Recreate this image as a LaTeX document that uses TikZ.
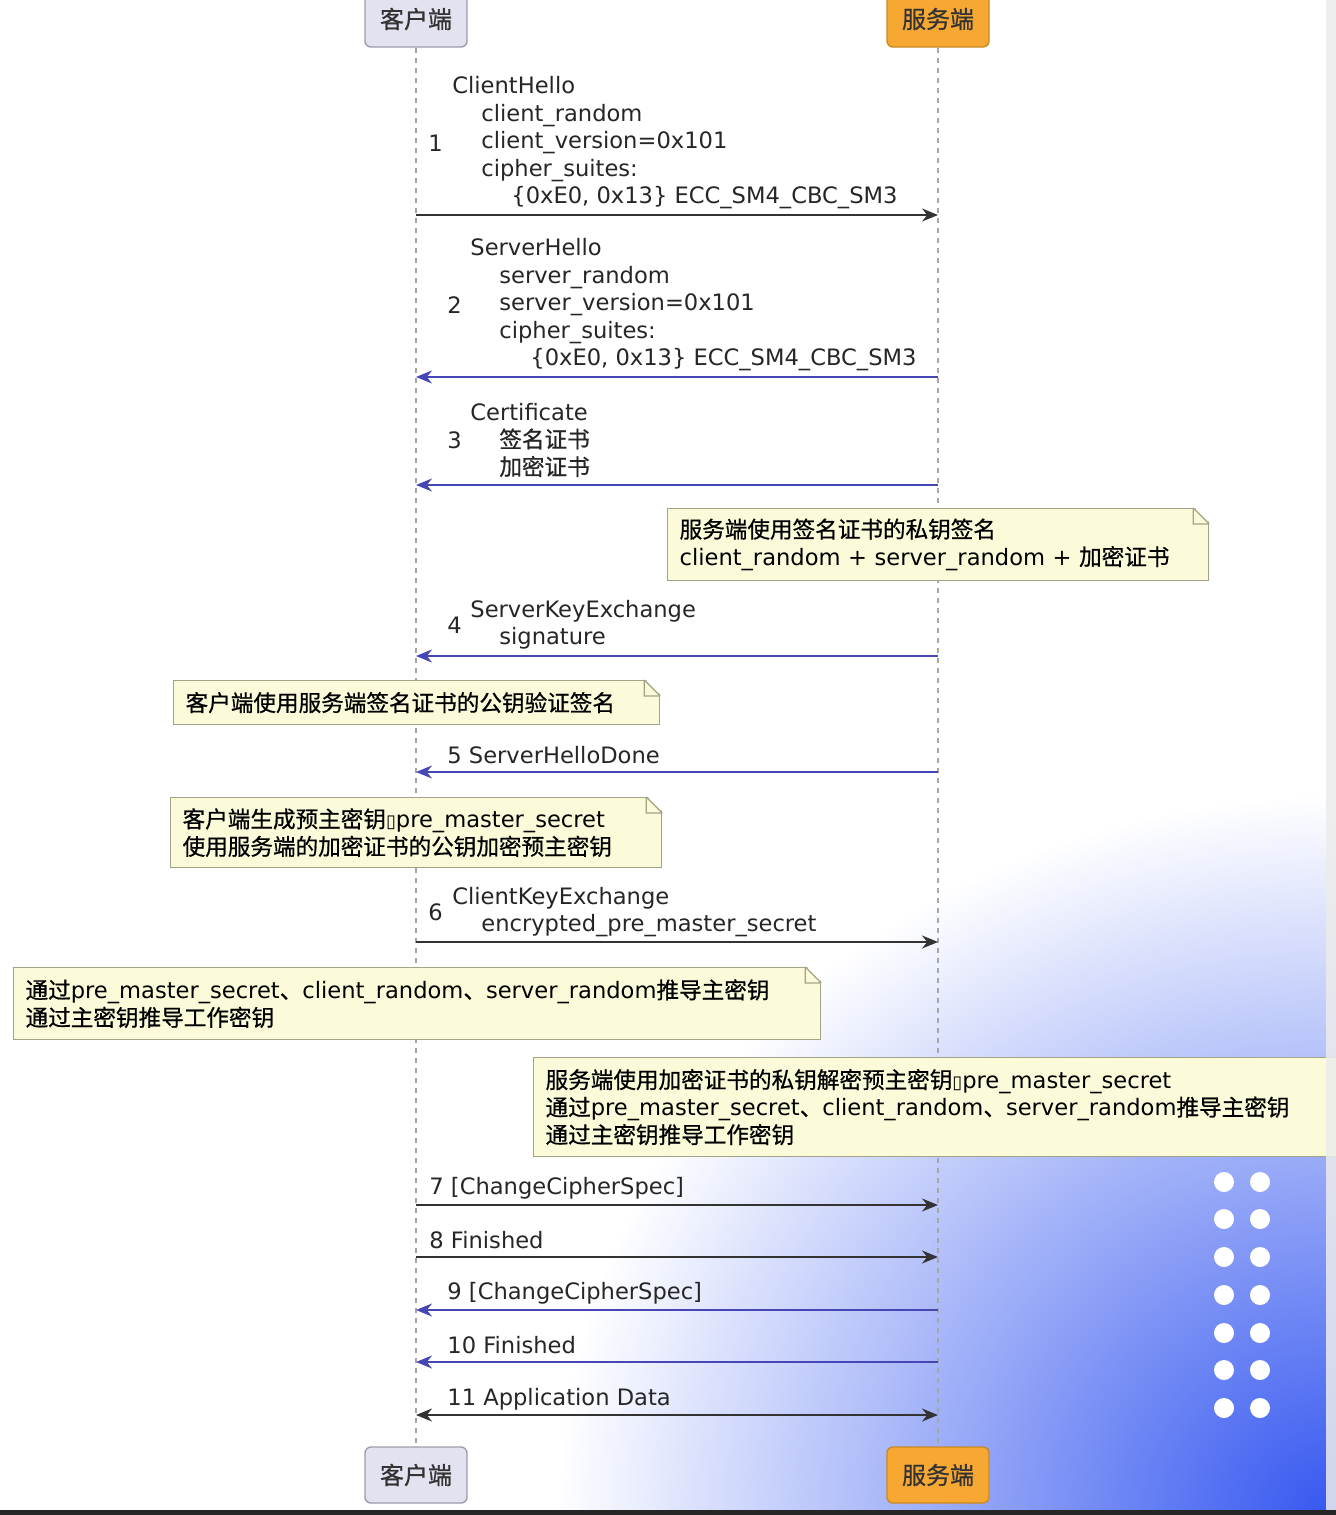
\documentclass[tikz,border=0pt]{standalone}
\usepackage{fontspec}
\setmainfont{DejaVu Sans}
\newfontfamily\zhfont[FakeBold=0.7]{Noto Sans CJK SC}
\newcommand{\zh}[1]{{\zhfont #1}}
\usepackage{xcolor}
\usepackage{tikz}
\usetikzlibrary{arrows.meta, positioning, calc}

\definecolor{clientfill}{HTML}{E2E2F0}
\definecolor{clientdraw}{HTML}{9C9CAC}
\definecolor{serverfill}{HTML}{F6A833}
\definecolor{serverdraw}{HTML}{C98A22}
\definecolor{notefill}{HTML}{FBFBDA}
\definecolor{notedraw}{HTML}{A3A38A}
\definecolor{fwdcol}{HTML}{333333}
\definecolor{backcol}{HTML}{4646B4}
\definecolor{gradblue}{HTML}{3557F0}

% folded corner of a note
\newcommand{\dogear}[1]{%
  \fill[white] ([xshift=-8pt,yshift=1pt]#1.north east) -- ([xshift=1pt,yshift=1pt]#1.north east) -- ([xshift=1pt,yshift=-8pt]#1.north east) -- cycle;
  \draw[notedraw, line width=0.6pt] ([xshift=-8pt]#1.north east) -- ([yshift=-8pt]#1.north east)
    ([xshift=-8pt]#1.north east) -- ([xshift=-8pt,yshift=-8pt]#1.north east) -- ([yshift=-8pt]#1.north east);
}

\begin{document}
\begin{tikzpicture}[
    x=0.5pt, y=-0.5pt,
    font=\fontsize{11.3}{13.75}\selectfont,
    >=Stealth,
    actor/.style={rectangle, draw=#1draw, fill=#1fill, rounded corners=3pt, line width=0.7pt, minimum width=51pt, minimum height=28pt, inner sep=0pt, font=\fontsize{12}{14}\selectfont\zhfont, text=black!80},
    lifeline/.style={draw=gray!70, line width=0.6pt, dash pattern=on 2.5pt off 2.5pt},
    note/.style={rectangle, draw=notedraw, fill=notefill, line width=0.6pt, anchor=north west, align=left, inner xsep=6pt, inner ysep=0pt, text width=#1},
    lbl/.style={anchor=west, inner sep=0pt, align=left, text=black!85},
    fwd/.style={-{Stealth[length=8pt, width=6.5pt]}, line width=1pt, draw=fwdcol},
    back/.style={-{Stealth[length=8pt, width=6.5pt]}, line width=1pt, draw=backcol},
    both/.style={{Stealth[length=8pt, width=6.5pt]}-{Stealth[length=8pt, width=6.5pt]}, line width=1pt, draw=fwdcol},
]
    \clip (0,0) rectangle (1336,1515);
    \fill[white] (0,0) rectangle (1336,1515);

    % Background glow
    \shade[inner color=gradblue, outer color=white] (1336,1515) ellipse (780 and 720);
    \foreach \row in {1182,1219,1257,1295,1333,1370,1408} {
        \fill[white] (1224,\row) circle (10);
        \fill[white] (1260,\row) circle (10);
    }

    % Participants
    \node[actor=client] (chead) at (416,19) {客户端};
    \node[actor=server] (shead) at (938,19) {服务端};
    \node[actor=client] (cfoot) at (416,1475) {客户端};
    \node[actor=server] (sfoot) at (938,1475) {服务端};
    \draw[lifeline] (chead.south) -- (cfoot.north);
    \draw[lifeline] (shead.south) -- (sfoot.north);

    % Notes
    \node[note=258.5pt, minimum height=36pt] (sign) at (667,508)
        {\zh{服务端使用签名证书的私钥签名}\\client\_random + server\_random + \zh{加密证书}};
    \dogear{sign}
    \node[note=231pt, minimum height=22pt] (verify) at (173,680)
        {\zh{客户端使用服务端签名证书的公钥验证签名}};
    \dogear{verify}
    \node[note=233.5pt, minimum height=35pt] (premaster) at (170,797)
        {\zh{客户端生成预主密钥}{\fontsize{9}{9}\selectfont ▯}pre\_master\_secret\\\zh{使用服务端的加密证书的公钥加密预主密钥}};
    \dogear{premaster}
    \node[note=391.5pt, minimum height=36pt] (cderive) at (13,967)
        {\zh{通过}pre\_master\_secret\zh{、}client\_random\zh{、}server\_random\zh{推导主密钥}\\\zh{通过主密钥推导工作密钥}};
    \dogear{cderive}
    \node[note=394pt, minimum height=49.5pt] (sderive) at (533,1057)
        {\zh{服务端使用加密证书的私钥解密预主密钥}{\fontsize{9}{9}\selectfont ▯}pre\_master\_secret\\\zh{通过}pre\_master\_secret\zh{、}client\_random\zh{、}server\_random\zh{推导主密钥}\\\zh{通过主密钥推导工作密钥}};

    % Messages
    \foreach \name/\ypos in {y1/215, y2/377, y3/485, y4/656, y5/772, y6/942, y7/1205, y8/1257, y9/1310, y10/1362, y11/1415}
        \coordinate (\name) at (0,\ypos);

    \node[lbl] (n1) at (428,143) {1};
    \node[lbl] (hello) at (452,143) {ClientHello\\
        \hspace*{14.5pt}client\_random\\
        \hspace*{14.5pt}client\_version=0x101\\
        \hspace*{14.5pt}cipher\_suites:\\
        \hspace*{29.5pt}\{0xE0, 0x13\} ECC\_SM4\_CBC\_SM3};
    \draw[fwd] (chead |- y1) -- (shead |- y1);

    \node[lbl] (n2) at (447,305) {2};
    \node[lbl] (shello) at (470,305) {ServerHello\\
        \hspace*{14.5pt}server\_random\\
        \hspace*{14.5pt}server\_version=0x101\\
        \hspace*{14.5pt}cipher\_suites:\\
        \hspace*{30pt}\{0xE0, 0x13\} ECC\_SM4\_CBC\_SM3};
    \draw[back] (shead |- y2) -- (chead |- y2);

    \node[lbl] (n3) at (447,440) {3};
    \node[lbl] (cert) at (470,440) {Certificate\\
        \hspace*{14.5pt}\zh{签名证书}\\
        \hspace*{14.5pt}\zh{加密证书}};
    \draw[back] (shead |- y3) -- (chead |- y3);

    \node[lbl] (n4) at (447,625) {4};
    \node[lbl] (skex) at (470,625) {ServerKeyExchange\\
        \hspace*{14.5pt}signature};
    \draw[back] (shead |- y4) -- (chead |- y4);

    \node[lbl] (done) at (447,755) {5 ServerHelloDone};
    \draw[back] (shead |- y5) -- (chead |- y5);

    \node[lbl] (n6) at (428,912) {6};
    \node[lbl] (ckex) at (452,912) {ClientKeyExchange\\
        \hspace*{14.5pt}encrypted\_pre\_master\_secret};
    \draw[fwd] (chead |- y6) -- (shead |- y6);

    \node[lbl] (ccs) at (429,1188) {7 [ChangeCipherSpec]};
    \draw[fwd] (chead |- y7) -- (shead |- y7);
    \node[lbl] (cfin) at (429,1240) {8 Finished};
    \draw[fwd] (chead |- y8) -- (shead |- y8);
    \node[lbl] (sccs) at (447,1293) {9 [ChangeCipherSpec]};
    \draw[back] (shead |- y9) -- (chead |- y9);
    \node[lbl] (sfin) at (447,1345) {10 Finished};
    \draw[back] (shead |- y10) -- (chead |- y10);
    \node[lbl] (appdata) at (447,1399) {11 Application Data};
    \draw[both] (chead |- y11) -- (shead |- y11);

    % Screen edges
    \fill[gray!15, opacity=0.85] (1326,0) rectangle (1336,1510);
    \fill[black!85] (0,1510) rectangle (1336,1515);
\end{tikzpicture}
\end{document}
